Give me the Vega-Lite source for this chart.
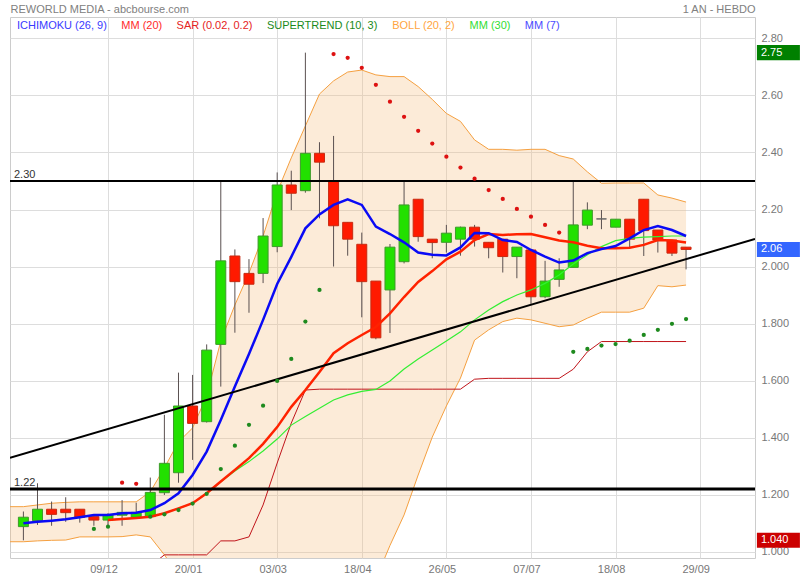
{
  "$schema": "https://vega.github.io/schema/vega-lite/v6.json",
  "width": 745,
  "height": 541,
  "autosize": {"type": "none"},
  "padding": {"left": 10, "top": 17, "right": 45, "bottom": 22},
  "background": "white",
  "config": {
    "view": {"stroke": "#cccccc", "strokeWidth": 1},
    "font": "Liberation Sans",
    "mark": {"invalid": "filter"},
    "scale": {"continuousPadding": 0},
    "axis": {"labelFont": "Liberation Sans", "labelFontSize": 11, "labelColor": "#777777", "gridColor": "#dddddd", "gridWidth": 1, "ticks": false, "domain": false}
  },
  "resolve": {"axis": {"x": "independent", "y": "independent"}},
  "datasets": {
    "weeks": [
      {"i": -1, "bu": 1.158, "bl": 1.035},
      {"i": 0, "o": 1.088, "h": 1.141, "l": 1.040, "c": 1.121, "bu": 1.158, "bl": 1.035, "m7": 1.100, "st": 0.95},
      {"i": 1, "o": 1.109, "h": 1.240, "l": 1.094, "c": 1.149, "bu": 1.164, "bl": 1.038, "m7": 1.105, "st": 0.95},
      {"i": 2, "o": 1.149, "h": 1.176, "l": 1.091, "c": 1.131, "bu": 1.170, "bl": 1.040, "m7": 1.109, "st": 0.95},
      {"i": 3, "o": 1.149, "h": 1.191, "l": 1.105, "c": 1.137, "bu": 1.173, "bl": 1.041, "m7": 1.114, "st": 0.95},
      {"i": 4, "o": 1.149, "h": 1.149, "l": 1.102, "c": 1.121, "bu": 1.175, "bl": 1.052, "m7": 1.121, "st": 0.95},
      {"i": 5, "o": 1.123, "h": 1.123, "l": 1.091, "c": 1.111, "bu": 1.175, "bl": 1.052, "m7": 1.129, "st": 0.95, "sar": 1.080, "sc": "g"},
      {"i": 6, "o": 1.111, "h": 1.135, "l": 1.087, "c": 1.129, "bu": 1.175, "bl": 1.052, "m7": 1.129, "m20": 1.111, "m30": 1.111, "st": 0.95, "sar": 1.088, "sc": "g"},
      {"i": 7, "o": 1.128, "h": 1.181, "l": 1.091, "c": 1.138, "bu": 1.175, "bl": 1.053, "m7": 1.135, "m20": 1.115, "m30": 1.115, "st": 0.95, "sar": 1.242, "sc": "r"},
      {"i": 8, "o": 1.121, "h": 1.172, "l": 1.121, "c": 1.138, "bu": 1.175, "bl": 1.059, "m7": 1.137, "m20": 1.118, "m30": 1.118, "st": 0.95, "sar": 1.238, "sc": "r"},
      {"i": 9, "o": 1.123, "h": 1.260, "l": 1.123, "c": 1.208, "bu": 1.210, "bl": 1.052, "m7": 1.146, "m20": 1.123, "m30": 1.123, "st": 0.95, "sar": 1.123, "sc": "g"},
      {"i": 10, "o": 1.207, "h": 1.480, "l": 1.199, "c": 1.310, "bu": 1.294, "bl": 0.989, "m7": 1.170, "m20": 1.135, "m30": 1.135, "st": 0.989, "sar": 1.131, "sc": "g"},
      {"i": 11, "o": 1.277, "h": 1.628, "l": 1.242, "c": 1.511, "bu": 1.385, "bl": 0.920, "m7": 1.205, "m20": 1.152, "m30": 1.152, "st": 0.989, "sar": 1.146, "sc": "g"},
      {"i": 12, "o": 1.511, "h": 1.620, "l": 1.322, "c": 1.450, "bu": 1.434, "bl": 0.906, "m7": 1.269, "m20": 1.170, "m30": 1.170, "st": 0.989, "sar": 1.169, "sc": "g"},
      {"i": 13, "o": 1.456, "h": 1.727, "l": 1.453, "c": 1.707, "bu": 1.546, "bl": 0.864, "m7": 1.351, "m20": 1.205, "m30": 1.204, "st": 0.989, "sar": 1.203, "sc": "g"},
      {"i": 14, "o": 1.727, "h": 2.303, "l": 1.579, "c": 2.020, "bu": 1.739, "bl": 0.752, "m7": 1.462, "m20": 1.246, "m30": 1.245, "st": 1.038, "sar": 1.290, "sc": "g"},
      {"i": 15, "o": 2.037, "h": 2.060, "l": 1.768, "c": 1.947, "bu": 1.865, "bl": 0.708, "m7": 1.579, "m20": 1.287, "m30": 1.283, "st": 1.038, "sar": 1.372, "sc": "g"},
      {"i": 16, "o": 1.976, "h": 2.026, "l": 1.838, "c": 1.938, "bu": 1.977, "bl": 0.678, "m7": 1.693, "m20": 1.328, "m30": 1.316, "st": 1.052, "sar": 1.445, "sc": "g"},
      {"i": 17, "o": 1.976, "h": 2.170, "l": 1.942, "c": 2.107, "bu": 2.107, "bl": 0.649, "m7": 1.813, "m20": 1.378, "m30": 1.353, "st": 1.164, "sar": 1.512, "sc": "g"},
      {"i": 18, "o": 2.070, "h": 2.330, "l": 2.050, "c": 2.286, "bu": 2.261, "bl": 0.613, "m7": 1.939, "m20": 1.437, "m30": 1.395, "st": 1.311, "sar": 1.599, "sc": "g"},
      {"i": 19, "o": 2.286, "h": 2.336, "l": 2.198, "c": 2.257, "bu": 2.381, "bl": 0.634, "m7": 2.034, "m20": 1.508, "m30": 1.444, "st": 1.451, "sar": 1.676, "sc": "g"},
      {"i": 20, "o": 2.266, "h": 2.750, "l": 2.259, "c": 2.397, "bu": 2.493, "bl": 0.641, "m7": 2.134, "m20": 1.567, "m30": 1.474, "st": 1.567, "sar": 1.807, "sc": "g"},
      {"i": 21, "o": 2.397, "h": 2.436, "l": 2.169, "c": 2.366, "bu": 2.605, "bl": 0.656, "m7": 2.183, "m20": 1.630, "m30": 1.503, "st": 1.570, "sar": 1.918, "sc": "g"},
      {"i": 22, "o": 2.298, "h": 2.458, "l": 2.000, "c": 2.143, "bu": 2.651, "bl": 0.741, "m7": 2.216, "m20": 1.696, "m30": 1.532, "st": 1.570, "sar": 2.745, "sc": "r"},
      {"i": 23, "o": 2.155, "h": 2.155, "l": 2.038, "c": 2.096, "bu": 2.682, "bl": 0.780, "m7": 2.236, "m20": 1.731, "m30": 1.550, "st": 1.570, "sar": 2.732, "sc": "r"},
      {"i": 24, "o": 2.078, "h": 2.119, "l": 1.822, "c": 1.947, "bu": 2.689, "bl": 0.831, "m7": 2.216, "m20": 1.760, "m30": 1.562, "st": 1.570, "sar": 2.697, "sc": "r"},
      {"i": 25, "o": 1.949, "h": 1.949, "l": 1.745, "c": 1.750, "bu": 2.672, "bl": 0.904, "m7": 2.140, "m20": 1.788, "m30": 1.569, "st": 1.570, "sar": 2.637, "sc": "r"},
      {"i": 26, "o": 1.918, "h": 2.079, "l": 1.767, "c": 2.068, "bu": 2.666, "bl": 1.022, "m7": 2.114, "m20": 1.836, "m30": 1.599, "st": 1.570, "sar": 2.578, "sc": "r"},
      {"i": 27, "o": 2.017, "h": 2.298, "l": 2.011, "c": 2.216, "bu": 2.666, "bl": 1.129, "m7": 2.085, "m20": 1.893, "m30": 1.641, "st": 1.570, "sar": 2.525, "sc": "r"},
      {"i": 28, "o": 2.236, "h": 2.236, "l": 2.087, "c": 2.105, "bu": 2.631, "bl": 1.269, "m7": 2.049, "m20": 1.946, "m30": 1.676, "st": 1.570, "sar": 2.476, "sc": "r"},
      {"i": 29, "o": 2.096, "h": 2.096, "l": 2.029, "c": 2.084, "bu": 2.586, "bl": 1.402, "m7": 2.041, "m20": 1.984, "m30": 1.707, "st": 1.570, "sar": 2.431, "sc": "r"},
      {"i": 30, "o": 2.085, "h": 2.146, "l": 2.049, "c": 2.117, "bu": 2.537, "bl": 1.511, "m7": 2.039, "m20": 2.025, "m30": 1.739, "st": 1.570, "sar": 2.385, "sc": "r"},
      {"i": 31, "o": 2.096, "h": 2.140, "l": 2.038, "c": 2.138, "bu": 2.509, "bl": 1.609, "m7": 2.067, "m20": 2.052, "m30": 1.771, "st": 1.570, "sar": 2.347, "sc": "r"},
      {"i": 32, "o": 2.138, "h": 2.146, "l": 2.070, "c": 2.096, "bu": 2.444, "bl": 1.742, "m7": 2.118, "m20": 2.093, "m30": 1.813, "st": 1.605, "sar": 2.308, "sc": "r"},
      {"i": 33, "o": 2.085, "h": 2.085, "l": 2.029, "c": 2.066, "bu": 2.411, "bl": 1.778, "m7": 2.117, "m20": 2.114, "m30": 1.848, "st": 1.608, "sar": 2.268, "sc": "r"},
      {"i": 34, "o": 2.096, "h": 2.096, "l": 1.979, "c": 2.035, "bu": 2.411, "bl": 1.807, "m7": 2.093, "m20": 2.111, "m30": 1.877, "st": 1.608, "sar": 2.237, "sc": "r"},
      {"i": 35, "o": 2.035, "h": 2.068, "l": 1.959, "c": 2.068, "bu": 2.408, "bl": 1.819, "m7": 2.086, "m20": 2.113, "m30": 1.900, "st": 1.608, "sar": 2.202, "sc": "r"},
      {"i": 36, "o": 2.058, "h": 2.058, "l": 1.869, "c": 1.894, "bu": 2.411, "bl": 1.813, "m7": 2.058, "m20": 2.114, "m30": 1.918, "st": 1.608, "sar": 2.175, "sc": "r"},
      {"i": 37, "o": 1.894, "h": 2.020, "l": 1.889, "c": 1.949, "bu": 2.411, "bl": 1.801, "m7": 2.035, "m20": 2.103, "m30": 1.941, "st": 1.608, "sar": 2.146, "sc": "r"},
      {"i": 38, "o": 1.955, "h": 2.029, "l": 1.929, "c": 1.988, "bu": 2.389, "bl": 1.789, "m7": 2.014, "m20": 2.091, "m30": 1.970, "st": 1.608, "sar": 2.119, "sc": "r"},
      {"i": 39, "o": 1.997, "h": 2.298, "l": 1.997, "c": 2.146, "bu": 2.377, "bl": 1.795, "m7": 2.021, "m20": 2.085, "m30": 2.009, "st": 1.640, "sar": 1.701, "sc": "g"},
      {"i": 40, "o": 2.145, "h": 2.225, "l": 2.131, "c": 2.198, "bu": 2.332, "bl": 1.819, "m7": 2.047, "m20": 2.073, "m30": 2.041, "st": 1.701, "sar": 1.711, "sc": "g"},
      {"i": 41, "o": 2.167, "h": 2.198, "l": 2.131, "c": 2.167, "bu": 2.292, "bl": 1.840, "m7": 2.061, "m20": 2.064, "m30": 2.070, "st": 1.737, "sar": 1.723, "sc": "g"},
      {"i": 42, "o": 2.138, "h": 2.166, "l": 2.138, "c": 2.166, "bu": 2.293, "bl": 1.840, "m7": 2.072, "m20": 2.064, "m30": 2.091, "st": 1.737, "sar": 1.728, "sc": "g"},
      {"i": 43, "o": 2.166, "h": 2.166, "l": 2.064, "c": 2.096, "bu": 2.293, "bl": 1.840, "m7": 2.099, "m20": 2.066, "m30": 2.099, "st": 1.737, "sar": 1.740, "sc": "g"},
      {"i": 44, "o": 2.236, "h": 2.236, "l": 2.037, "c": 2.126, "bu": 2.293, "bl": 1.854, "m7": 2.128, "m20": 2.076, "m30": 2.103, "st": 1.737, "sar": 1.760, "sc": "g"},
      {"i": 45, "o": 2.128, "h": 2.128, "l": 2.049, "c": 2.093, "bu": 2.251, "bl": 1.933, "m7": 2.142, "m20": 2.093, "m30": 2.105, "st": 1.737, "sar": 1.778, "sc": "g"},
      {"i": 46, "o": 2.093, "h": 2.093, "l": 2.037, "c": 2.047, "bu": 2.240, "bl": 1.929, "m7": 2.128, "m20": 2.091, "m30": 2.107, "st": 1.737, "sar": 1.799, "sc": "g"},
      {"i": 47, "o": 2.068, "h": 2.068, "l": 1.990, "c": 2.060, "bu": 2.226, "bl": 1.935, "m7": 2.107, "m20": 2.084, "m30": 2.107, "st": 1.737, "sar": 1.816, "sc": "g"}
    ],
    "trend": [{"i": -0.95, "v": 1.329}, {"i": 51.89, "v": 2.097}],
    "levels": [{"v": 2.30, "t": "2.30"}, {"v": 1.22, "t": "1.22"}],
    "tags": [{"v": 2.75, "t": "2.75", "k": "max"}, {"v": 2.06, "t": "2.06", "k": "last"}, {"v": 1.04, "t": "1.040", "k": "min"}],
    "legend": [{"n": "ICHIMOKU (26, 9)"}, {"n": "MM (20)"}, {"n": "SAR (0.02, 0.2)"}, {"n": "SUPERTREND (10, 3)"}, {"n": "BOLL (20, 2)"}, {"n": "MM (30)"}, {"n": "MM (7)"}]
  },
  "layer": [
    {
      "data": {"name": "weeks"},
      "mark": {"type": "area", "fill": "#F5BC7D", "fillOpacity": 0.3, "clip": true},
      "encoding": {
        "x": {"field": "i", "type": "quantitative", "scale": {"domain": [-0.95, 51.89]},
          "axis": {"orient": "bottom", "values": [6, 12, 18, 24, 30, 36, 42, 48], "labelExpr": "['09/12','20/01','03/03','18/04','26/05','07/07','18/08','29/09'][datum.value/6-1]", "title": null, "grid": true, "labelPadding": 5, "labelOffset": -4.5}},
        "y": {"field": "bu", "type": "quantitative", "scale": {"domain": [0.978, 2.875]},
          "axis": {"orient": "right", "values": [1.0, 1.2, 1.4, 1.6, 1.8, 2.0, 2.2, 2.4, 2.6, 2.8], "labelExpr": "datum.value > 2.1 ? format(datum.value, '.2f') : format(datum.value, '.3f')", "grid": true, "labelPadding": 6, "title": "1 AN - HEBDO", "titleAngle": 0, "titleAlign": "right", "titleBaseline": "middle", "titleX": 0, "titleY": -8, "titleFont": "Liberation Sans", "titleFontSize": 11, "titleFontWeight": "normal", "titleColor": "#808080"}},
        "y2": {"field": "bl"}
      }
    },
    {
      "data": {"name": "weeks"},
      "mark": {"type": "line", "stroke": "#F5A040", "strokeWidth": 1, "clip": true},
      "encoding": {
        "x": {"field": "i", "type": "quantitative", "scale": {"domain": [-0.95, 51.89]}, "axis": null},
        "y": {"field": "bu", "type": "quantitative", "scale": {"domain": [0.978, 2.875]}, "axis": null}
      }
    },
    {
      "data": {"name": "weeks"},
      "mark": {"type": "line", "stroke": "#F5A040", "strokeWidth": 1, "clip": true},
      "encoding": {
        "x": {"field": "i", "type": "quantitative", "scale": {"domain": [-0.95, 51.89]}, "axis": null},
        "y": {"field": "bl", "type": "quantitative", "scale": {"domain": [0.978, 2.875]}, "axis": null}
      }
    },
    {
      "data": {"name": "weeks"},
      "mark": {"type": "rule", "stroke": "#5a5050", "strokeWidth": 1},
      "encoding": {
        "x": {"field": "i", "type": "quantitative", "scale": {"domain": [-0.95, 51.89]}, "axis": null},
        "y": {"field": "l", "type": "quantitative", "scale": {"domain": [0.978, 2.875]}, "axis": null},
        "y2": {"field": "h"}
      }
    },
    {
      "data": {"name": "weeks"},
      "mark": {"type": "bar", "width": 10, "strokeWidth": 1},
      "encoding": {
        "x": {"field": "i", "type": "quantitative", "scale": {"domain": [-0.95, 51.89], "padding": 0}, "axis": null},
        "y": {"field": "o", "type": "quantitative", "scale": {"domain": [0.978, 2.875]}, "axis": null},
        "y2": {"field": "c"},
        "fill": {"condition": [{"test": "datum.c > datum.o", "value": "#22E000"}, {"test": "datum.c < datum.o", "value": "#FF1A00"}], "value": "#777777"},
        "stroke": {"condition": [{"test": "datum.c > datum.o", "value": "#3E9A2A"}, {"test": "datum.c < datum.o", "value": "#C82A10"}], "value": "#666666"}
      }
    },
    {
      "data": {"name": "weeks"},
      "mark": {"type": "line", "stroke": "#C0141A", "strokeWidth": 1, "clip": true},
      "encoding": {
        "x": {"field": "i", "type": "quantitative", "scale": {"domain": [-0.95, 51.89]}, "axis": null},
        "y": {"field": "st", "type": "quantitative", "scale": {"domain": [0.978, 2.875]}, "axis": null}
      }
    },
    {
      "data": {"name": "weeks"},
      "mark": {"type": "line", "stroke": "#33EE33", "strokeWidth": 1.2, "clip": true},
      "encoding": {
        "x": {"field": "i", "type": "quantitative", "scale": {"domain": [-0.95, 51.89]}, "axis": null},
        "y": {"field": "m30", "type": "quantitative", "scale": {"domain": [0.978, 2.875]}, "axis": null}
      }
    },
    {
      "data": {"name": "weeks"},
      "mark": {"type": "line", "stroke": "#FF2200", "strokeWidth": 2.5, "clip": true},
      "encoding": {
        "x": {"field": "i", "type": "quantitative", "scale": {"domain": [-0.95, 51.89]}, "axis": null},
        "y": {"field": "m20", "type": "quantitative", "scale": {"domain": [0.978, 2.875]}, "axis": null}
      }
    },
    {
      "data": {"name": "weeks"},
      "mark": {"type": "line", "stroke": "#0A0AF5", "strokeWidth": 2.5, "clip": true},
      "encoding": {
        "x": {"field": "i", "type": "quantitative", "scale": {"domain": [-0.95, 51.89]}, "axis": null},
        "y": {"field": "m7", "type": "quantitative", "scale": {"domain": [0.978, 2.875]}, "axis": null}
      }
    },
    {
      "data": {"name": "trend"},
      "mark": {"type": "line", "stroke": "#000000", "strokeWidth": 2, "clip": true},
      "encoding": {
        "x": {"field": "i", "type": "quantitative", "scale": {"domain": [-0.95, 51.89]},
          "axis": {"orient": "top", "labels": false, "grid": false, "ticks": false, "domain": false, "title": "REWORLD MEDIA - abcbourse.com", "titleAngle": 0, "titleAnchor": null, "titleAlign": "left", "titleBaseline": "middle", "titleX": 0, "titleY": -8, "titleFont": "Liberation Sans", "titleFontSize": 11, "titleFontWeight": "normal", "titleColor": "#808080"}},
        "y": {"field": "v", "type": "quantitative", "scale": {"domain": [0.978, 2.875]}, "axis": null}
      }
    },
    {
      "data": {"name": "levels"},
      "mark": {"type": "rule", "stroke": "#000000"},
      "encoding": {
        "y": {"field": "v", "type": "quantitative", "scale": {"domain": [0.978, 2.875]}, "axis": null},
        "strokeWidth": {"condition": {"test": "datum.v < 2", "value": 3}, "value": 2}
      }
    },
    {
      "data": {"name": "levels"},
      "mark": {"type": "text", "align": "left", "baseline": "alphabetic", "dx": 4, "dy": -3, "font": "Liberation Sans", "fontSize": 11, "color": "#333333"},
      "encoding": {
        "x": {"datum": -0.95, "type": "quantitative", "scale": {"domain": [-0.95, 51.89]}, "axis": null},
        "y": {"field": "v", "type": "quantitative", "scale": {"domain": [0.978, 2.875]}, "axis": null},
        "text": {"field": "t"}
      }
    },
    {
      "data": {"name": "weeks"},
      "mark": {"type": "point", "filled": true, "size": 18, "opacity": 1},
      "encoding": {
        "x": {"field": "i", "type": "quantitative", "scale": {"domain": [-0.95, 51.89]}, "axis": null},
        "y": {"field": "sar", "type": "quantitative", "scale": {"domain": [0.978, 2.875]}, "axis": null},
        "fill": {"condition": {"test": "datum.sc == 'r'", "value": "#DD1111"}, "value": "#1E8A1E"}
      }
    },
    {
      "data": {"name": "tags"},
      "mark": {"type": "point", "filled": true, "shape": "M-1,-0.35H1V0.35H-1Z", "size": 1849, "opacity": 1, "clip": false},
      "encoding": {
        "x": {"datum": 53.55, "type": "quantitative", "scale": {"domain": [-0.95, 51.89]}, "axis": null},
        "y": {"field": "v", "type": "quantitative", "scale": {"domain": [0.978, 2.875]}, "axis": null},
        "fill": {"condition": [{"test": "datum.k == 'max'", "value": "#008000"}, {"test": "datum.k == 'last'", "value": "#3366FF"}], "value": "#CC0000"}
      }
    },
    {
      "data": {"name": "tags"},
      "mark": {"type": "text", "align": "left", "baseline": "middle", "font": "Liberation Sans", "fontSize": 11, "color": "#ffffff", "clip": false},
      "encoding": {
        "x": {"datum": 52.31, "type": "quantitative", "scale": {"domain": [-0.95, 51.89]}, "axis": null},
        "y": {"field": "v", "type": "quantitative", "scale": {"domain": [0.978, 2.875]}, "axis": null},
        "text": {"field": "t"}
      }
    },
    {
      "data": {"name": "legend"},
      "mark": {"type": "point", "opacity": 0},
      "encoding": {
        "color": {"field": "n", "type": "nominal",
          "scale": {"domain": ["ICHIMOKU (26, 9)", "MM (20)", "SAR (0.02, 0.2)", "SUPERTREND (10, 3)", "BOLL (20, 2)", "MM (30)", "MM (7)"],
                    "range": ["#3A3AFF", "#FF2A2A", "#E52222", "#1A8A1A", "#FFA540", "#33DD33", "#4B4BFF"]},
          "legend": {"orient": "none", "legendX": -4, "legendY": 3, "direction": "horizontal", "title": null, "symbolSize": 0.01, "symbolOpacity": 0, "symbolStrokeWidth": 0, "labelOffset": 0, "columnPadding": 3.3, "padding": 0, "labelFont": "Liberation Sans", "labelFontSize": 11, "labelLimit": 300,
            "labelColor": {"expr": "scale('color', datum.value)"}}
        }
      }
    }
  ]
}
